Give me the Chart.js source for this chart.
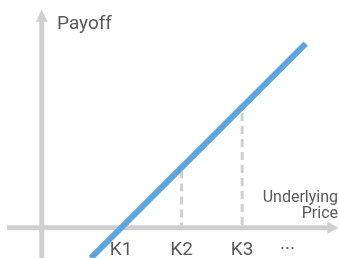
<!DOCTYPE html>
<html>
<head>
<meta charset="utf-8">
<script src="https://cdn.jsdelivr.net/npm/chart.js@4.4.1/dist/chart.umd.min.js"></script>
<style>
  html, body { margin: 0; padding: 0; background: #fff; }
  #wrap { width: 339px; height: 258px; }
</style>
</head>
<body>
<div id="wrap"><canvas id="myChart"></canvas></div>
<script>
// payoff of a long call, strikes on the x axis
const strikeLabels = ['K1', 'K2', 'K3', '···'];
const strikeValues = [1, 2, 3, 3.75];

const payoffX = [0.5, 4.05];
const payoffY = [-0.5, 3.05];

// dashed guides from the axis up to the payoff line
const guideX = [2, 3];
const guideTop = [0.95, 1.9];

const axisTitleY = 'Payoff';
const axisTitleX = ['Underlying', 'Price'];

const grey = '#cfcfcf';
const textGrey = '#595959';
const blue = '#5ba6e1';

const guideSets = guideX.map((gx, i) => ({
    data: [{ x: gx, y: guideTop[i] }, { x: gx, y: 0 }],
    borderColor: grey,
    borderWidth: 3,
    borderDash: [8, 5],
    pointRadius: 0,
    order: 2
}));

const axesPlugin = {
    id: 'axes',
    beforeDatasetsDraw(chart) {
        const ctx = chart.ctx;
        const x = chart.scales.x;
        const y = chart.scales.y;
        const ox = x.getPixelForValue(-0.31);
        const oy = y.getPixelForValue(0);
        ctx.save();
        ctx.strokeStyle = grey;
        ctx.fillStyle = grey;
        ctx.lineWidth = 5;
        // horizontal axis
        const xStart = x.getPixelForValue(-0.885);
        const xTip = x.getPixelForValue(4.59);
        ctx.beginPath();
        ctx.moveTo(xStart, oy);
        ctx.lineTo(xTip - 8, oy);
        ctx.stroke();
        ctx.beginPath();
        ctx.moveTo(xTip, oy);
        ctx.lineTo(xTip - 11, oy - 6);
        ctx.lineTo(xTip - 11, oy + 6);
        ctx.closePath();
        ctx.fill();
        // vertical axis
        const yTip = y.getPixelForValue(3.61);
        ctx.beginPath();
        ctx.moveTo(ox, y.getPixelForValue(-0.5));
        ctx.lineTo(ox, yTip + 8);
        ctx.stroke();
        ctx.beginPath();
        ctx.moveTo(ox, yTip);
        ctx.lineTo(ox - 6, yTip + 12);
        ctx.lineTo(ox + 6, yTip + 12);
        ctx.closePath();
        ctx.fill();
        ctx.restore();
    },
    afterDraw(chart) {
        const ctx = chart.ctx;
        const x = chart.scales.x;
        const y = chart.scales.y;
        ctx.save();
        ctx.fillStyle = textGrey;
        ctx.font = '19px Roboto';
        ctx.textBaseline = 'alphabetic';
        ctx.textAlign = 'center';
        strikeLabels.forEach((lab, i) => {
            ctx.fillText(lab, x.getPixelForValue(strikeValues[i]), 255);
        });
        ctx.textAlign = 'left';
        ctx.fillText(axisTitleY, 57, 29);
        ctx.font = '16px Roboto';
        ctx.textAlign = 'right';
        ctx.fillText(axisTitleX[0], 338, 202);
        ctx.fillText(axisTitleX[1], 338, 218);
        ctx.restore();
    }
};

const ctx = document.getElementById('myChart');

const myChart = new Chart(ctx, {
    type: 'line',
    data: {
        datasets: [{
            data: payoffX.map((v, i) => ({ x: v, y: payoffY[i] })),
            borderColor: blue,
            borderWidth: 6,
            pointRadius: 0,
            order: 1
        }, ...guideSets]
    },
    options: {
        responsive: true,
        maintainAspectRatio: false,
        animation: false,
        layout: { padding: 0 },
        plugins: {
            legend: { display: false },
            tooltip: { enabled: false }
        },
        scales: {
            x: { type: 'linear', display: false, min: -1, max: 4.6 },
            y: { type: 'linear', display: false, min: -0.5, max: 3.77 }
        }
    },
    plugins: [axesPlugin]
});
</script>
</body>
</html>
